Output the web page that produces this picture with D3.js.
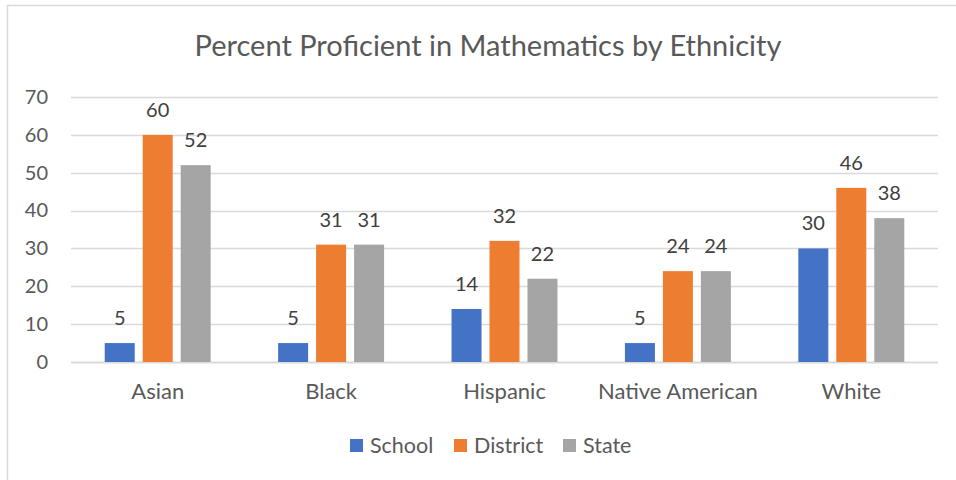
<!DOCTYPE html>
<html>
<head>
<meta charset="utf-8">
<script src="https://cdn.jsdelivr.net/npm/d3@7"></script>
<style>
  html, body { margin: 0; padding: 0; background: #fff; }
  svg { display: block; font-family: Lato, "Open Sans", sans-serif; }
</style>
</head>
<body>
<svg id="chart" width="956" height="480"></svg>
<script>
// Chart data
const categories = ["Asian", "Black", "Hispanic", "Native American", "White"];
const seriesNames = ["School", "District", "State"];
const school   = [5, 5, 14, 5, 30];
const district = [60, 31, 32, 24, 46];
const state    = [52, 31, 22, 24, 38];
const yTicks = [0, 10, 20, 30, 40, 50, 60, 70];
const colors = ["#4472C4", "#ED7D31", "#A5A5A5"];
const title = "Percent Proficient in Mathematics by Ethnicity";

const series = [school, district, state];

const svg = d3.select("#chart");
const W = 956, H = 480;
const textColor = "#595959";
const font = "Lato, 'Open Sans', sans-serif";

// Chart area frame
svg.append("rect")
  .attr("x", 7.5).attr("y", 5.5)
  .attr("width", W + 10).attr("height", H + 10)
  .attr("fill", "#fff").attr("stroke", "#D9D9D9").attr("stroke-width", 1.5);

const plot = { left: 71, right: 938, top: 97, bottom: 362 };

const x0 = d3.scaleBand()
  .domain(categories)
  .range([plot.left, plot.right])
  .paddingInner(0.389)
  .paddingOuter(0.1945);

const x1 = d3.scaleBand()
  .domain(seriesNames)
  .range([0, x0.bandwidth()])
  .paddingInner(0.21);

const y = d3.scaleLinear().domain([0, 70]).range([plot.bottom, plot.top]);

// Gridlines
svg.append("g")
  .selectAll("line")
  .data(yTicks)
  .join("line")
  .attr("x1", plot.left).attr("x2", plot.right)
  .attr("y1", d => Math.round(y(d)) + 0.5).attr("y2", d => Math.round(y(d)) + 0.5)
  .attr("stroke", "#D9D9D9").attr("stroke-width", d => d === 0 ? 2 : 1.3);

// Y axis labels
const yAxis = d3.axisLeft(y).tickValues(yTicks).tickSize(0).tickPadding(0);
const yg = svg.append("g").attr("transform", `translate(${48},0)`).call(yAxis);
yg.select(".domain").remove();
yg.selectAll("text")
  .attr("fill", textColor)
  .style("font-size", "20px")
  .style("font-family", font);

// Bars
const groups = svg.append("g")
  .selectAll("g")
  .data(categories)
  .join("g")
  .attr("transform", d => `translate(${x0(d)},0)`);

groups.selectAll("rect")
  .data((c, i) => seriesNames.map((s, j) => ({ s, v: series[j][i], j })))
  .join("rect")
  .attr("x", d => x1(d.s))
  .attr("width", x1.bandwidth())
  .attr("y", d => y(d.v))
  .attr("height", d => y(0) - y(d.v))
  .attr("fill", d => colors[d.j]);

// Value labels
groups.selectAll("text")
  .data((c, i) => seriesNames.map((s, j) => ({ s, v: series[j][i], j })))
  .join("text")
  .attr("x", d => x1(d.s) + x1.bandwidth() / 2)
  .attr("y", d => y(d.v) - 18)
  .attr("text-anchor", "middle")
  .attr("fill", "#404040")
  .style("font-size", "20px")
  .text(d => d.v);

// Category labels
const xAxis = d3.axisBottom(x0).tickSize(0).tickPadding(0);
const xg = svg.append("g").attr("transform", `translate(0,${plot.bottom + 21})`).call(xAxis);
xg.select(".domain").remove();
xg.selectAll("text")
  .attr("fill", textColor)
  .style("font-size", "22px")
  .style("font-family", font);

// Title
svg.append("text")
  .attr("x", 488).attr("y", 56)
  .attr("text-anchor", "middle")
  .attr("fill", textColor)
  .style("font-size", "29px")
  .text(title);

// Legend
const legendX = [350, 454, 563];
const lg = svg.append("g")
  .selectAll("g")
  .data(seriesNames)
  .join("g")
  .attr("transform", (d, i) => `translate(${legendX[i]},439)`);
lg.append("rect").attr("width", 13).attr("height", 13).attr("fill", (d, i) => colors[i]);
lg.append("text")
  .attr("x", 20).attr("y", 14)
  .attr("fill", textColor)
  .style("font-size", "21.5px")
  .text(d => d);
</script>
</body>
</html>
